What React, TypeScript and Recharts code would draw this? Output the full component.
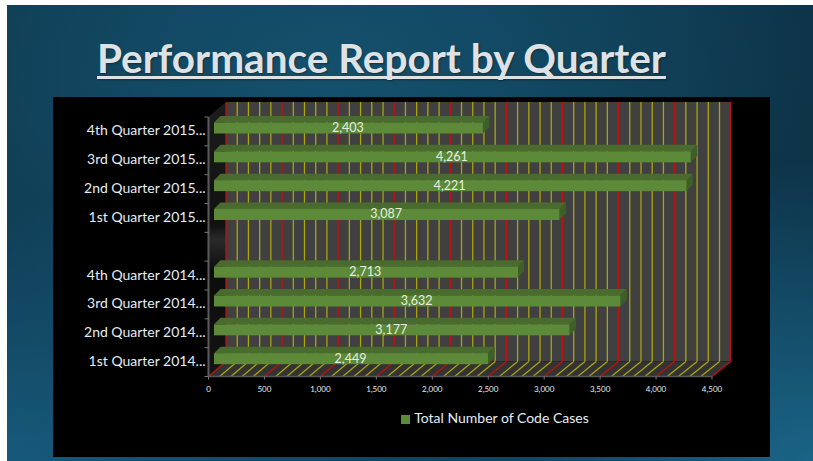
import {
  Bar,
  BarChart,
  LabelList,
  Legend,
  ReferenceArea,
  ReferenceLine,
  XAxis,
  YAxis,
} from 'recharts';

const quarters = [
  '4th Quarter 2015...',
  '3rd Quarter 2015...',
  '2nd Quarter 2015...',
  '1st Quarter 2015...',
  '',
  '4th Quarter 2014...',
  '3rd Quarter 2014...',
  '2nd Quarter 2014...',
  '1st Quarter 2014...',
];
const codeCases = [2403, 4261, 4221, 3087, null, 2713, 3632, 3177, 2449];
const majorTicks = [0, 500, 1000, 1500, 2000, 2500, 3000, 3500, 4000, 4500];
const minorTicks = [
  100, 200, 300, 400, 600, 700, 800, 900, 1100, 1200, 1300, 1400, 1600, 1700,
  1800, 1900, 2100, 2200, 2300, 2400, 2600, 2700, 2800, 2900, 3100, 3200, 3300,
  3400, 3600, 3700, 3800, 3900, 4100, 4200, 4300, 4400,
];

const data = quarters.map((name, i) => ({ name, cases: codeCases[i] }));

const font = 'Lato, "Open Sans", sans-serif';
const plotLeft = 208.5;
const plotRight = 712;
const plotTop = 117;
const plotBottom = 376.5;
const depthX = 17.5;
const depthY = 15;
const bandH = (plotBottom - plotTop) / quarters.length;

// back wall is a touch wider than the front plane
const wallX = (x: number) => x + depthX + (x - plotLeft) * 0.0024;

function Box(props: any) {
  const { x, y, width, height } = props;
  if (!width || width <= 0) return null;
  const bx = x + 5.5;
  const by = y - 3.5;
  const d = 6.5;
  return (
    <g>
      <polygon
        points={`${bx},${by} ${bx + d},${by - d} ${bx + width + d},${by - d} ${bx + width},${by}`}
        fill="#4a6b2e"
      />
      <polygon
        points={`${bx + width},${by} ${bx + width + d},${by - d} ${bx + width + d},${by + height - d} ${bx + width},${by + height}`}
        fill="#3f5f28"
      />
      <rect x={bx} y={by} width={width} height={height} fill="#5c8a38" />
    </g>
  );
}

function Room() {
  const l = plotLeft;
  const r = plotRight;
  const t = plotTop;
  const b = plotBottom;
  const wl = wallX(l);
  const wr = wallX(r);
  return (
    <g>
      <defs>
        <linearGradient id="sideWall" x1="0" y1="0" x2="0" y2="1">
          <stop offset="0" stopColor="#1c1c1c" />
          <stop offset="0.45" stopColor="#111111" />
          <stop offset="0.5" stopColor="#2a2a2a" />
          <stop offset="0.62" stopColor="#0c0c0c" />
          <stop offset="1" stopColor="#141414" />
        </linearGradient>
      </defs>
      <polygon
        points={`${l},${t} ${wl},${t - depthY} ${wl},${b - depthY} ${l},${b}`}
        fill="url(#sideWall)"
      />
      <rect x={wl} y={t - depthY} width={wr - wl} height={b - t} fill="#404040" />
      <polygon
        points={`${l},${b} ${wl},${b - depthY} ${wr},${b - depthY} ${r},${b}`}
        fill="#333333"
      />
    </g>
  );
}

function GridLine(props: any) {
  const { x1, y1, y2, color } = props;
  const top = Math.min(y1, y2);
  const bottom = Math.max(y1, y2);
  const wx = wallX(x1);
  return (
    <g stroke={color} strokeWidth={1.3} fill="none">
      <line x1={wx} y1={top - depthY} x2={wx} y2={bottom - depthY} />
      <line x1={wx} y1={bottom - depthY} x2={x1} y2={bottom} />
    </g>
  );
}

function QuarterTick(props: any) {
  const { x, y, payload, index } = props;
  const last = index === quarters.length - 1;
  return (
    <g>
      <line x1={plotLeft - 4} x2={plotLeft} y1={y - bandH / 2} y2={y - bandH / 2} stroke="#777" />
      {last && (
        <line x1={plotLeft - 4} x2={plotLeft} y1={y + bandH / 2} y2={y + bandH / 2} stroke="#777" />
      )}
      <text
        x={x + 5}
        y={y + 4}
        textAnchor="end"
        fontSize={14}
        fontFamily={font}
        fill="#e4edf5"
      >
        {payload.value}
      </text>
    </g>
  );
}

export default function App() {
  return (
    <div
      style={{
        position: 'absolute',
        left: 0,
        top: 0,
        width: 813,
        height: 461,
        background: '#fff',
        overflow: 'hidden',
      }}
    >
      <div
        style={{
          position: 'absolute',
          left: 7,
          top: 5,
          width: 806,
          height: 456,
          background:
            'radial-gradient(ellipse 420px 300px at 100% 100%, #1a6487 0%, rgba(26,100,135,0) 100%), radial-gradient(ellipse 520px 260px at 0% 100%, #17597a 0%, rgba(23,89,122,0) 100%), radial-gradient(ellipse 480px 300px at 40% 15%, #14506c 0%, rgba(20,80,108,0) 100%), linear-gradient(100deg, #0f3a50 0%, #104058 45%, #0d3145 100%)',
        }}
      />
      <div
        style={{
          position: 'absolute',
          left: 53,
          top: 97,
          width: 717,
          height: 360,
          background: '#000',
        }}
      />
      <div
        style={{
          position: 'absolute',
          left: 97,
          top: 35,
          whiteSpace: 'nowrap',
          fontFamily: font,
          fontWeight: 700,
          fontSize: 40.5,
          lineHeight: '46px',
          color: '#dfe2e4',
          textDecoration: 'underline',
          textDecorationThickness: 3,
          textUnderlineOffset: 3,
          textDecorationSkipInk: 'none',
          textShadow: '1px 1px 2px rgba(0,0,0,0.35)',
        }}
      >
        Performance Report by Quarter
      </div>

      {/* walls, floor and gridlines sit in their own chart so the bars cover them */}
      <div style={{ position: 'absolute', left: 0, top: 0 }}>
        <BarChart
          width={813}
          height={461}
          data={data}
          layout="vertical"
          margin={{
            top: plotTop,
            right: 813 - plotRight,
            bottom: 461 - plotBottom,
            left: plotLeft,
          }}
        >
          <XAxis type="number" domain={[0, 4500]} height={0} tick={false} tickLine={false} axisLine={false} />
          <YAxis type="category" dataKey="name" width={0} tick={false} tickLine={false} axisLine={false} />
          <ReferenceArea x1={0} x2={4500} shape={<Room />} />
          {minorTicks.map((v) => (
            <ReferenceLine key={v} x={v} shape={<GridLine color="#aaa40c" />} />
          ))}
          {majorTicks.map((v) => (
            <ReferenceLine key={v} x={v} shape={<GridLine color="#c01010" />} />
          ))}
          <Bar dataKey="cases" shape={() => null} isAnimationActive={false} />
        </BarChart>
      </div>

      <div style={{ position: 'absolute', left: 0, top: 0 }}>
        <BarChart
          width={813}
          height={461}
          data={data}
          layout="vertical"
          barCategoryGap={0}
          margin={{
            top: plotTop,
            right: 813 - plotRight,
            bottom: 461 - plotBottom - 20,
            left: 0,
          }}
        >
          <XAxis
            type="number"
            domain={[0, 4500]}
            ticks={majorTicks}
            height={20}
            interval={0}
            tickFormatter={(v: number) => v.toLocaleString('en-US')}
            tick={{ fontSize: 8, fontFamily: font, fill: '#e4edf5' }}
            tickSize={3}
            tickMargin={7}
            tickLine={{ stroke: '#777' }}
            axisLine={{ stroke: '#555', strokeWidth: 1.5 }}
          />
          <YAxis
            type="category"
            dataKey="name"
            width={plotLeft}
            interval={0}
            tick={<QuarterTick />}
            tickLine={false}
            axisLine={{ stroke: '#5a5a5a', strokeWidth: 2 }}
          />
          <Bar
            dataKey="cases"
            name="Total Number of Code Cases"
            fill="#5c8a38"
            barSize={11}
            shape={<Box />}
            isAnimationActive={false}
          >
            <LabelList
              dataKey="cases"
              position="center"
              dx={5}
              dy={-4}
              formatter={(v: number) => (v == null ? '' : v.toLocaleString('en-US'))}
              style={{ fontSize: 12.5, fontFamily: font, fill: '#e8efe0' }}
            />
          </Bar>
          <Legend
            layout="horizontal"
            align="center"
            verticalAlign="middle"
            iconType="square"
            iconSize={9}
            wrapperStyle={{ top: 409, left: 390, width: 220, fontFamily: font, fontSize: 14 }}
            formatter={(value: string) => <span style={{ color: '#e4edf5' }}>{value}</span>}
          />
        </BarChart>
      </div>
    </div>
  );
}
